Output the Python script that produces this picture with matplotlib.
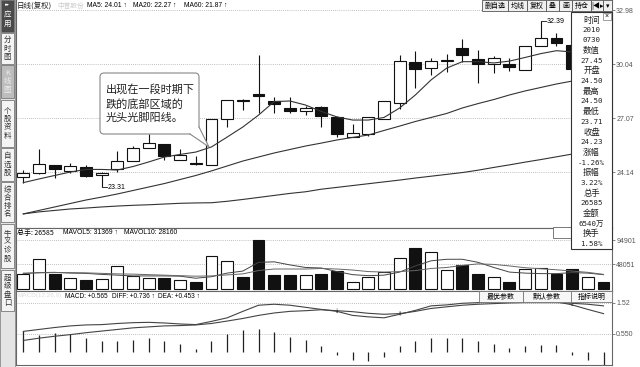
import numpy as np
import matplotlib as mpl
import matplotlib.pyplot as plt
from matplotlib.patches import Rectangle, FancyBboxPatch, Polygon

mpl.rcParams['font.family'] = ['Noto Sans CJK SC', 'DejaVu Sans']
mpl.rcParams['axes.unicode_minus'] = False

# daily candles (adjusted prices)
opens = [23.88, 24.07, 24.52, 24.19, 24.43, 23.98, 24.29, 24.76, 25.45, 25.65,
         24.80, 24.62, 24.51, 27.02, 28.07, 28.40, 28.04, 27.65, 27.47, 27.71,
         27.13, 26.07, 26.22, 27.04, 27.89, 30.17, 29.81, 30.23, 30.90, 30.30,
         30.02, 30.02, 29.71, 31.02, 31.48, 31.08, 29.80, 29.95]
closes = [24.10, 24.56, 24.32, 24.47, 23.92, 24.10, 24.76, 25.43, 25.71, 25.03,
          25.07, 24.56, 27.02, 28.07, 28.03, 28.31, 27.84, 27.49, 27.65, 27.20,
          26.20, 26.29, 27.13, 28.02, 30.22, 29.78, 30.20, 30.26, 30.52, 30.02,
          30.35, 29.89, 31.02, 31.44, 31.20, 29.75, 30.05, 29.60]
highs = [24.25, 25.38, 24.54, 24.62, 24.52, 24.14, 25.30, 25.56, 26.22, 25.68,
         25.38, 25.01, 27.02, 28.09, 28.13, 30.53, 28.25, 28.22, 27.76, 27.74,
         27.20, 26.76, 27.15, 28.04, 30.53, 30.75, 30.37, 30.57, 31.39, 30.80,
         30.48, 30.35, 31.04, 32.39, 31.72, 31.10, 30.20, 30.00]
lows = [23.56, 24.05, 23.80, 24.10, 23.88, 23.31, 24.16, 24.74, 25.43, 24.80,
        24.78, 24.54, 24.51, 26.58, 27.53, 27.35, 27.35, 27.35, 27.25, 26.58,
        26.07, 26.05, 26.12, 27.02, 27.57, 28.75, 29.44, 29.62, 30.17, 28.99,
        29.53, 29.66, 29.69, 31.00, 31.02, 29.70, 29.60, 29.40]

ma5 = [23.56, 23.76, 23.95, 24.14, 24.28, 24.28, 24.25, 24.44, 24.69, 24.96,
       25.10, 25.23, 25.51, 26.05, 26.60, 27.25, 27.99, 28.02, 27.80, 27.45,
       27.15, 26.98, 26.98, 27.12, 27.64, 28.35, 29.17, 29.82, 30.17, 30.17,
       30.10, 30.20, 30.40, 30.61, 30.77, 30.70]
ma20 = [21.85, 22.04, 22.23, 22.42, 22.61, 22.77, 22.94, 23.13, 23.32, 23.51,
        23.73, 23.95, 24.20, 24.47, 24.74, 24.96, 25.18, 25.37, 25.56, 25.72,
        25.89, 26.03, 26.16, 26.41, 26.65, 26.90, 27.12, 27.34, 27.64, 27.88,
        28.10, 28.35, 28.57, 28.76, 28.95, 29.11]
ma60 = [21.85, 21.96, 22.04, 22.12, 22.17, 22.23, 22.28, 22.32, 22.35, 22.39,
        22.43, 22.45, 22.46, 22.54, 22.64, 22.75, 22.86, 22.97, 23.06, 23.20,
        23.30, 23.40, 23.50, 23.60, 23.70, 23.81, 23.91, 24.01, 24.11, 24.24,
        24.39, 24.53, 24.68, 24.82, 24.97, 25.12]

vols = [29300, 58000, 29000, 20900, 17500, 18900, 44300, 25400, 20900, 20900,
        17500, 14300, 65000, 54700, 22800, 95600, 27300, 27300, 27300, 29300,
        35700, 14300, 24000, 33000, 61100, 79400, 71600, 37100, 46800, 29300,
        22800, 14300, 38400, 41600, 28700, 38400, 22800, 13100]
mavol5 = [30000, 32000, 32500, 31000, 30500, 28500, 27000, 25500, 25500, 25500,
          25000, 21000, 24000, 31000, 35000, 52000, 53000, 47000, 42000, 41000,
          34000, 28000, 26000, 27000, 33000, 45000, 55000, 58000, 58000, 52000,
          42000, 33000, 31000, 30000, 30000, 32000, 31000, 28000]
mavol10 = [31000, 31500, 32000, 32000, 31500, 30500, 29500, 29000, 28000, 27000,
           26000, 25000, 25500, 27500, 29500, 36000, 39000, 39000, 39000, 40000,
           39000, 37000, 34000, 33000, 34000, 36000, 40000, 42000, 46000, 49000,
           48000, 45000, 41500, 39500, 37500, 35000, 32500, 28500]

macd = [0.63, 0.53, 0.58, 0.55, 0.43, 0.32, 0.32, 0.37, 0.43, 0.32,
        0.25, 0.09, 0.32, 0.55, 0.66, 0.71, 0.61, 0.46, 0.37, 0.17,
        -0.10, -0.25, -0.30, -0.17, 0.17, 0.32, 0.43, 0.43, 0.43, 0.34,
        0.24, 0.11, 0.17, 0.20, 0.20, -0.10, -0.25, -0.41]
diff = [0.63, 0.69, 0.75, 0.80, 0.83, 0.84, 0.875, 0.90, 0.91, 0.89,
        0.86, 0.84, 0.94, 1.05, 1.25, 1.44, 1.47, 1.44, 1.375, 1.31,
        1.25, 1.125, 1.08, 1.05, 1.16, 1.28, 1.42, 1.45, 1.50, 1.52,
        1.54, 1.55, 1.55, 1.55, 1.55, 1.45, 1.31, 1.18]
dea = [0.35, 0.42, 0.48, 0.53, 0.59, 0.64, 0.69, 0.74, 0.77, 0.80,
       0.81, 0.83, 0.875, 0.95, 1.03, 1.125, 1.20, 1.25, 1.27, 1.30,
       1.27, 1.24, 1.19, 1.16, 1.18, 1.25, 1.34, 1.39, 1.44, 1.47,
       1.49, 1.51, 1.52, 1.52, 1.52, 1.50, 1.47, 1.42]

price_ticks = [24.14, 27.07, 30.04, 32.98]
vol_ticks = [48051, 94901]
macd_ticks = [0.550, 1.52]

info_lines = ['时间', '2010', '0730', '数值', '27.45', '开盘', '24.50', '最高', '24.50',
              '最低', '23.71', '收盘', '24.23', '涨幅', '-1.26%', '振幅', '3.22%',
              '总手', '26585', '金额', '6540万', '换手', '1.58%']
side_tabs = ['应用', '分时图', 'K线图', '个股资料', '自选股', '综合排名', '牛叉诊股', '超级盘口']
top_buttons = ['删自选', '均线', '复权', '叠', '画', '持仓', '|◀▸', '▾']
macd_buttons = ['最优参数', '默认参数', '指标说明']
note = '出现在一段时期下\n跌的底部区域的\n光头光脚阳线。'

W, H = 640, 367
LAT = ['Liberation Sans', 'DejaVu Sans']
MONO = ['DejaVu Sans Mono', 'Noto Sans CJK SC']


def px_box(x0, y0, x1, y1):
    return [x0 / W, 1 - y1 / H, (x1 - x0) / W, (y1 - y0) / H]


def style(ax, ticks, labels, ylim):
    ax.set_xlim(-0.466, 37.54)
    ax.set_ylim(*ylim)
    ax.set_xticks([])
    ax.yaxis.tick_right()
    ax.set_yticks(ticks)
    ax.set_yticklabels(labels, fontsize=5, color='#444', family=LAT)
    ax.tick_params(axis='y', length=2, width=0.5, pad=1, colors='#555')
    ax.grid(axis='y', ls=(0, (1, 1.5)), color='#aaa', lw=0.6)
    for s in ax.spines.values():
        s.set_color('#666')
        s.set_linewidth(0.8)


fig = plt.figure(figsize=(6.4, 3.67), dpi=100, facecolor='w')
ax_p = fig.add_axes(px_box(16, 0, 612, 228))
ax_v = fig.add_axes(px_box(16, 228, 612, 291))
ax_m = fig.add_axes(px_box(16, 291, 612, 365))

x = np.arange(len(opens))
o, c = np.array(opens), np.array(closes)
up = c >= o
colors = np.where(up, 'white', '#111')

# price panel
ax_p.vlines(x, lows, highs, color='#111', lw=0.8, zorder=2)
ax_p.bar(x, np.maximum(np.abs(c - o), 0.05), 0.76, bottom=np.minimum(o, c),
         color=colors, edgecolor='#111', lw=0.8, zorder=3)
for ma in (ma5, ma20, ma60):
    ax_p.plot(np.arange(len(ma)), ma, color='#333', lw=0.8, zorder=4)
lo_i, hi_i = int(np.argmin(lows)), int(np.argmax(highs))
ax_p.plot([lo_i, lo_i + 0.35], [lows[lo_i]] * 2, color='#111', lw=0.6)
ax_p.text(lo_i + 0.4, lows[lo_i], '%.2f' % lows[lo_i], fontsize=5, va='center', family=LAT)
ax_p.plot([hi_i, hi_i + 0.35], [highs[hi_i]] * 2, color='#111', lw=0.6)
ax_p.text(hi_i + 0.4, highs[hi_i], '%.2f' % highs[hi_i], fontsize=5, va='center', family=LAT)
style(ax_p, price_ticks, ['%.2f' % t for t in price_ticks], (21.08, 33.54))
ax_p.spines['top'].set_visible(False)

# volume panel
ax_v.bar(x, vols, 0.76, color=colors, edgecolor='#111', lw=0.8, zorder=3)
ax_v.plot(x, mavol5, color='#444', lw=0.7, zorder=4)
ax_v.plot(x, mavol10, color='#666', lw=0.7, zorder=4)
style(ax_v, vol_ticks, [str(t) for t in vol_ticks], (-3900, 119000))

# MACD panel
ax_m.vlines(x, 0, macd, color='#222', lw=0.9)
ax_m.plot(x, diff, color='#444', lw=0.8)
ax_m.plot(x, dea, color='#444', lw=0.8)
sgn = np.sign(macd)
for i in np.where(np.diff(sgn) != 0)[0] + 1:
    ax_m.text(i, diff[i], '↓' if macd[i] < 0 else '↑', fontsize=6, fontweight='bold',
              ha='center', va='center', family=LAT)
style(ax_m, macd_ticks, ['1.52' if t > 1 else '0.550' for t in macd_ticks], (-0.41, 1.88))

# overlay in pixel coordinates for the software chrome
ov = fig.add_axes([0, 0, 1, 1], zorder=10)
ov.set_xlim(0, W)
ov.set_ylim(H, 0)
ov.axis('off')
ov.patch.set_alpha(0)

# left side tabs
ov.add_patch(Rectangle((0, 0), 15, H, fc='#e4e4e4', ec='#888', lw=0.6))
tab_y = [(0, 32), (33, 64), (65, 98), (100, 147), (148, 181), (182, 222), (224, 268), (270, 311)]
for k, (name, (y0, y1)) in enumerate(zip(side_tabs, tab_y)):
    fc, tc = '#f4f4f4', '#333'
    if k == 0:
        fc, tc = '#4a4a4a', 'w'
    elif k == 2:
        fc, tc = '#bdbdbd', '#eee'
    ov.add_patch(Rectangle((1, y0), 13, y1 - y0, fc=fc, ec='#777', lw=0.6))
    cy = (y0 + y1) / 2 + (4 if k == 0 else 0)
    ov.text(7.5, cy, '\n'.join(name), fontsize=5.4, color=tc, ha='center', va='center',
            linespacing=1.05)
ov.text(7.5, 5, '▸▸', fontsize=3.5, color='w', ha='center', va='center', family=LAT)

# top row texts
ov.text(17, 5.5, '日线(复权)', fontsize=5.4, va='center', color='#222')
ov.text(57, 5.5, '中普股份', fontsize=4.8, va='center', color='#ccc')
ov.text(87, 5.5, 'MA5: 24.01 ↑', fontsize=4.9, va='center', family=LAT)
ov.text(133, 5.5, 'MA20: 22.27 ↑', fontsize=4.9, va='center', family=LAT)
ov.text(184, 5.5, 'MA60: 21.87 ↑', fontsize=4.9, va='center', family=LAT)

bx = [482, 508, 527, 546, 559, 572, 591, 603, 612]
for k, name in enumerate(top_buttons):
    ov.add_patch(Rectangle((bx[k], 0), bx[k + 1] - bx[k], 11, fc='#f0f0f0', ec='#555', lw=0.6))
    ov.text((bx[k] + bx[k + 1]) / 2, 5.8, name, fontsize=5, ha='center', va='center',
            family=['Noto Sans CJK SC', 'DejaVu Sans'])

# volume / MACD header texts
ov.text(17, 232.5, '总手: 26585', fontsize=5, va='center', family=['Noto Sans CJK SC'])
ov.text(63, 232.5, 'MAVOL5: 31369 ↑', fontsize=4.9, va='center', family=LAT)
ov.text(124, 232.5, 'MAVOL10: 28160', fontsize=4.9, va='center', family=LAT)
ov.text(17, 296, 'MACD(12,26,9)', fontsize=4.6, va='center', color='#ddd', family=LAT)
ov.text(65, 296, 'MACD: +0.565', fontsize=4.7, va='center', family=LAT)
ov.text(112, 296, 'DIFF: +0.736 ↑', fontsize=4.7, va='center', family=LAT)
ov.text(158, 296, 'DEA: +0.453 ↑', fontsize=4.7, va='center', family=LAT)
ov.add_patch(Rectangle((553, 227), 19, 11, fc='w', ec='#666', lw=0.6))

mb = [479, 523, 571, 612]
for k, name in enumerate(macd_buttons):
    ov.add_patch(Rectangle((mb[k], 291), mb[k + 1] - mb[k], 11, fc='#f7f7f7', ec='#777', lw=0.6))
    ov.text((mb[k] + mb[k + 1]) / 2, 296.5, name, fontsize=5, ha='center', va='center')

# info box
ov.add_patch(Rectangle((571, 12), 41, 237, fc='w', ec='#333', lw=0.8))
ov.add_patch(Rectangle((603, 13), 8, 7, fc='w', ec='#777', lw=0.5))
ov.text(607, 16.3, '×', fontsize=5, ha='center', va='center', family=LAT)
for k, s in enumerate(info_lines):
    yy = 20 + k * 224 / (len(info_lines) - 1)
    if any('\u4e00' <= ch <= '\u9fff' for ch in s) and not s[0].isdigit():
        ov.text(591.5, yy, s, fontsize=6, ha='center', va='center', color='#222')
    else:
        ov.text(591.5, yy, s, fontsize=5.4, ha='center', va='center', color='#222', family=MONO)

# callout bubble
ov.add_patch(FancyBboxPatch((100, 73), 99, 61, boxstyle='round,pad=0,rounding_size=4',
                            fc='w', ec='#888', lw=0.8))
ov.add_patch(Polygon([(190, 134), (199, 127), (209, 147)], closed=True, fc='w', ec='none'))
ov.plot([190, 209, 199], [134, 147, 127], color='#888', lw=0.8)
ov.text(106, 103.5, note, fontsize=8, va='center', ha='left', color='#222', linespacing=1.4)

fig.savefig('out.png', dpi=100, facecolor='w')
